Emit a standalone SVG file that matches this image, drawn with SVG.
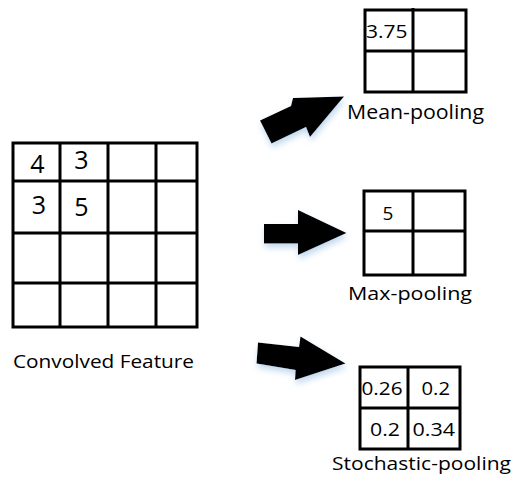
<svg xmlns="http://www.w3.org/2000/svg" width="512" height="482" viewBox="0 0 512 482">
<style>
.g{fill:none;stroke:#000;stroke-width:3}
.t{font-family:"Open Sans","Lato","Liberation Sans",sans-serif;fill:#000}
.arrow{fill:#000;filter:url(#sh)}
</style>
<defs>
<filter id="sh" x="-30%" y="-30%" width="160%" height="180%">
<feDropShadow dx="1" dy="4" stdDeviation="3" flood-color="#8fb8e0" flood-opacity="0.55"/>
</filter>
</defs>
<rect width="512" height="482" fill="#fff"/>
<g id="convolved">
<rect class="g" x="13" y="143" width="184" height="184"/>
<path class="g" d="M60 143V327M108 143V327M156 143V327M13 181H197M13 233H197M13 283H197"/>
<g class="t" font-size="25" text-anchor="middle">
<text x="37.5" y="173">4</text>
<text x="81.5" y="169">3</text>
<text x="39" y="214">3</text>
<text x="81.5" y="216">5</text>
</g>
<text class="t" x="13" y="367.5" font-size="18" textLength="181" lengthAdjust="spacingAndGlyphs">Convolved Feature</text>
</g>
<g id="mean">
<rect class="g" x="365" y="10" width="101" height="82"/>
<path class="g" d="M413 8V92M365 51H466"/>
<text class="t" x="366" y="37.5" font-size="19" textLength="41.5" lengthAdjust="spacingAndGlyphs">3.75</text>
<text class="t" x="347" y="119" font-size="20" textLength="137" lengthAdjust="spacingAndGlyphs">Mean-pooling</text>
</g>
<g id="max">
<rect class="g" x="364" y="191" width="101" height="84"/>
<path class="g" d="M413 191V275M364 231H465"/>
<text class="t" x="388" y="219.5" font-size="19" text-anchor="middle">5</text>
<text class="t" x="348" y="299.5" font-size="18" textLength="124" lengthAdjust="spacingAndGlyphs">Max-pooling</text>
</g>
<g id="stochastic">
<rect class="g" x="360" y="367" width="100" height="82"/>
<path class="g" d="M408 367V449M360 408H460"/>
<g class="t" font-size="18.5">
<text x="361.5" y="394.5" textLength="41" lengthAdjust="spacingAndGlyphs">0.26</text>
<text x="421.5" y="394.5" textLength="28.5" lengthAdjust="spacingAndGlyphs">0.2</text>
<text x="370" y="436" textLength="30" lengthAdjust="spacingAndGlyphs">0.2</text>
<text x="412.5" y="436" textLength="42.5" lengthAdjust="spacingAndGlyphs">0.34</text>
</g>
<text class="t" x="332" y="469.5" font-size="18" textLength="179" lengthAdjust="spacingAndGlyphs">Stochastic-pooling</text>
</g>
<g id="connectors">
<polygon class="arrow" points="260,120.5 291,106 293,98 344,96.5 310,137 306,127 271.5,143.5"/>
<polygon class="arrow" points="264,224 298,224 298,210 346.5,233 298,255 298,243.5 264,243.5"/>
<polygon class="arrow" points="258,342.5 299,347 300.5,336.5 345.5,363.5 295,380 295.5,370 256.5,363.5"/>
</g>
</svg>
